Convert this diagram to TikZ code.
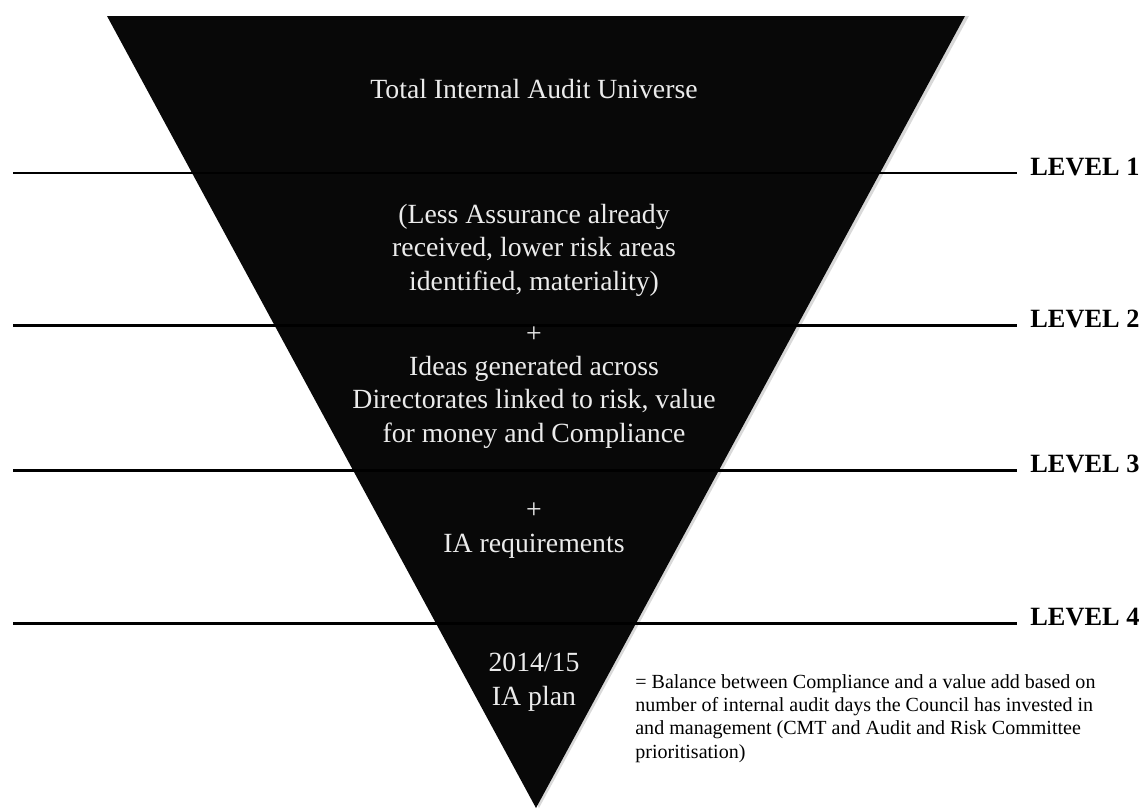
\documentclass[tikz,border=0pt]{standalone}
\usepackage{fontspec}
\setmainfont{Liberation Serif}
\usetikzlibrary{positioning, calc}

\definecolor{funnelblack}{HTML}{080808}

\begin{document}
\begin{tikzpicture}[
    x=0.02cm, y=-0.02cm,
    funnel/.style={fill=funnelblack, draw=none},
    shade/.style={fill=gray!30, draw=none},
    intext/.style={text=white!92!black, font=\fontsize{15.8}{18.8}\selectfont, align=center, inner sep=0pt, anchor=base},
    levelline/.style={line width=1.7pt, black},
    levellabel/.style={font=\fontsize{15}{18}\selectfont\bfseries, anchor=base west, inner sep=0pt},
    note/.style={font=\fontsize{11.4}{13.2}\selectfont, align=left, inner sep=0pt, anchor=base west}
]
\useasboundingbox (0,0) rectangle (1144,809);

% trichter
\coordinate (tl) at (107,16);
\coordinate (tr) at (965,16);
\coordinate (apex) at (536,808);
\fill[shade] ($(tl)+(4,0)$) -- ($(tr)+(4,0)$) -- ($(apex)+(3,0)$) -- cycle;
\fill[funnel] (tl) -- (tr) -- (apex) -- cycle;

% ebenen
\foreach \y/\n in {173/1, 325/2, 470/3, 623/4} {
    \coordinate (w\n) at (13,\y);
    \coordinate (e\n) at (1017,\y);
    \draw[levelline] (w\n) -- (e\n);
    \node[levellabel] (level\n) at ($(e\n)+(13,2)$) {LEVEL \n};
}

% texte im trichter (base = letzte zeile)
\node[intext] (universe) at (534,98) {Total Internal Audit Universe};
\node[intext] (assurance) at (534,290) {(Less Assurance already\\received, lower risk areas\\identified, materiality)};
\node[intext] (ideas) at (534,442) {+\\Ideas generated across\\Directorates linked to risk, value\\for money and Compliance};
\node[intext] (require) at (534,552) {+\\IA requirements};
\node[intext] (plan) at (534,705) {2014/15\\IA plan};

% erklaerung
\node[note] (balance) at (635,758) {= Balance between Compliance and a value add based on\\number of internal audit days the Council has invested in\\and management (CMT and Audit and Risk Committee\\prioritisation)};

\end{tikzpicture}
\end{document}
